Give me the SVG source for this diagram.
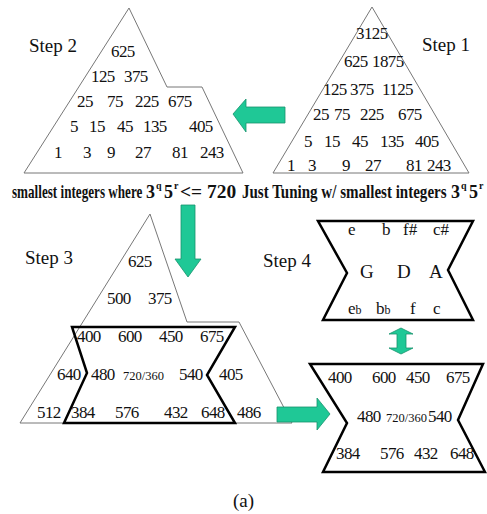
<svg xmlns="http://www.w3.org/2000/svg" width="487" height="514" viewBox="0 0 487 514">
<style>
text{font-family:"Liberation Serif","Times New Roman",serif;fill:#111}
.n{font-size:17px;letter-spacing:-0.6px}
.s{font-size:12.5px}
.lab{font-size:19px}
.cap{font-size:18px;font-weight:bold}
.sup{font-size:10px;font-weight:bold}
.note{font-size:17px}
.tri{fill:#fff;stroke:#777;stroke-width:1}
.hex{fill:none;stroke:#000;stroke-width:2.5;stroke-linejoin:miter}
.arr{fill:#1fc896;stroke:#17936d;stroke-width:0.8}
</style>
<rect width="487" height="514" fill="#fff"/>

<g id="step2">
<polygon class="tri" points="129,8 167,87 202,87 243,173 24,173"/>
<text class="lab" x="29" y="52">Step 2</text>
<text class="n" x="111" y="57">625</text>
<text class="n" x="91" y="82">125</text><text class="n" x="124" y="82">375</text>
<text class="n" x="77" y="107">25</text><text class="n" x="107" y="107">75</text><text class="n" x="135" y="107">225</text><text class="n" x="168" y="107">675</text>
<text class="n" x="70" y="132">5</text><text class="n" x="89" y="132">15</text><text class="n" x="117" y="132">45</text><text class="n" x="143" y="132">135</text><text class="n" x="189" y="132">405</text>
<text class="n" x="54" y="158">1</text><text class="n" x="83" y="158">3</text><text class="n" x="107" y="158">9</text><text class="n" x="135" y="158">27</text><text class="n" x="172" y="158">81</text><text class="n" x="200" y="158">243</text>
<text class="cap" transform="translate(12,198) scale(0.73,1)">smallest integers where</text>
<text class="cap" x="146" y="198">3</text><text class="sup" x="156" y="189">q</text>
<text class="cap" x="164" y="198">5</text><text class="sup" x="174" y="189">r</text>
<text class="cap" transform="translate(180,198) scale(1.08,1)">&lt;= 720</text>
</g>

<g id="step1">
<polygon class="tri" points="372,7 469,173 273,173"/>
<text class="lab" x="422" y="51">Step 1</text>
<text class="n" x="356" y="39">3125</text>
<text class="n" x="344" y="67">625</text><text class="n" x="372" y="67">1875</text>
<text class="n" x="323" y="95">125</text><text class="n" x="350" y="95">375</text><text class="n" x="382" y="95">1125</text>
<text class="n" x="313" y="120">25</text><text class="n" x="334" y="120">75</text><text class="n" x="360" y="120">225</text><text class="n" x="398" y="120">675</text>
<text class="n" x="304" y="147">5</text><text class="n" x="324" y="147">15</text><text class="n" x="352" y="147">45</text><text class="n" x="380" y="147">135</text><text class="n" x="415" y="147">405</text>
<text class="n" x="287" y="171">1</text><text class="n" x="308" y="171">3</text><text class="n" x="342" y="171">9</text><text class="n" x="365" y="171">27</text><text class="n" x="406" y="171">81</text><text class="n" x="427" y="171">243</text>
<text class="cap" transform="translate(242,198) scale(0.835,1)">Just Tuning w/ smallest integers</text>
<text class="cap" x="451" y="198">3</text><text class="sup" x="461" y="189">q</text>
<text class="cap" x="469" y="198">5</text><text class="sup" x="479" y="189">r</text>
</g>

<g id="step3">
<polygon class="tri" points="150,214 187,322 239,322 292,423 20,423"/>
<polygon class="hex" points="72,327 235,327 207,375 235,423 64,423 87,373"/>
<text class="lab" x="25" y="264">Step 3</text>
<text class="n" x="128" y="267">625</text>
<text class="n" x="107" y="304">500</text><text class="n" x="148" y="304">375</text>
<text class="n" x="77" y="342">400</text><text class="n" x="118" y="342">600</text><text class="n" x="159" y="342">450</text><text class="n" x="200" y="342">675</text>
<text class="n" x="57" y="380">640</text><text class="n" x="91" y="380">480</text><text class="s" x="123" y="380">720/360</text><text class="n" x="179" y="380">540</text><text class="n" x="219" y="380">405</text>
<text class="n" x="37" y="418">512</text><text class="n" x="71" y="418">384</text><text class="n" x="115" y="418">576</text><text class="n" x="164" y="418">432</text><text class="n" x="201" y="418">648</text><text class="n" x="237" y="418">486</text>
</g>

<g id="step4">
<polygon class="hex" points="318,221 473,221 448,270 473,320 323,320 347,273"/>
<text class="lab" x="263" y="267">Step 4</text>
<text class="note" x="348" y="235">e</text><text class="note" x="382" y="235">b</text><text class="note" x="403" y="235">f#</text><text class="note" x="433" y="235">c#</text>
<text class="lab" x="360" y="278">G</text><text class="lab" x="397" y="278">D</text><text class="lab" x="429" y="278">A</text>
<text class="note" x="348" y="314">e<tspan font-size="12">b</tspan></text><text class="note" x="376" y="314">b<tspan font-size="12">b</tspan></text><text class="note" x="410" y="314">f</text><text class="note" x="433" y="314">c</text>
</g>

<g id="result">
<polygon class="hex" points="310,364 483,364 458,420 485,472 323,472 347,423"/>
<text class="n" x="328" y="383">400</text><text class="n" x="372" y="383">600</text><text class="n" x="406" y="383">450</text><text class="n" x="446" y="383">675</text>
<text class="n" x="357" y="422">480</text><text class="s" x="386" y="422">720/360</text><text class="n" x="428" y="422">540</text>
<text class="n" x="336" y="459">384</text><text class="n" x="380" y="459">576</text><text class="n" x="414" y="459">432</text><text class="n" x="450" y="459">648</text>
</g>

<g id="connectors">
<polygon class="arr" points="233,114 246,99 246,107 285,107 285,123 246,123 246,132"/>
<polygon class="arr" points="181,205 195,205 195,259 201,259 188,277 175,259 181,259"/>
<polygon class="arr" points="401,328 413,334 406,334 406,348 413,348 401,354 389,348 397,348 397,334 389,334"/>
<polygon class="arr" points="277,407 317,407 317,398 330,414 317,430 317,422 277,422"/>
</g>

<text x="233" y="507" style="font-size:19px">(a)</text>
</svg>
